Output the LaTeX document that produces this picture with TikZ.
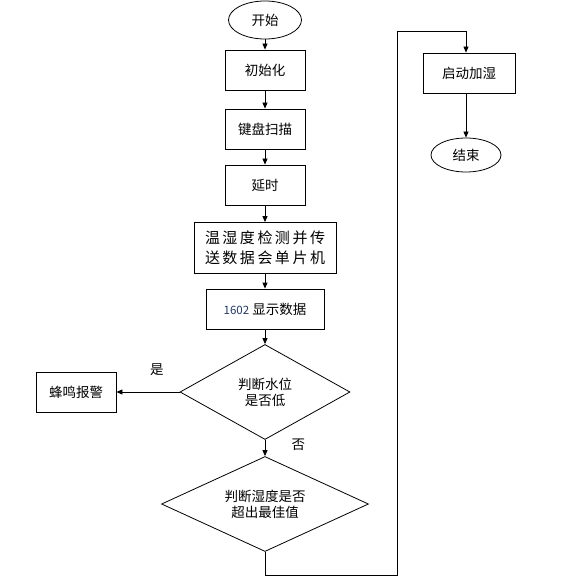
\documentclass[tikz,border=0pt]{standalone}
\usepackage{fontspec}
\setmainfont{Noto Sans CJK SC}
\usetikzlibrary{arrows.meta,positioning,shapes.geometric}
\definecolor{num-blau}{rgb}{.13,.22,.40}

\begin{document}
\begin{tikzpicture}[x=1pt, y=-1pt, >={Triangle[length=6pt,width=5pt]}, font=\fontsize{13.5}{16}\selectfont,
	   b/.style={draw, thick, minimum width=80pt, minimum height=40pt, inner sep=2pt, align=center},
	   e/.style={draw, thick, ellipse, inner sep=0pt},
	   d/.style={draw, thick, diamond, aspect=1.8, inner sep=0pt, align=center}]
	  \useasboundingbox (0,0) rectangle (576,577);
	  \node[e, minimum width=73pt, minimum height=38pt] (start) at (265,20) {开始};
	  \node[b] (init) at (265,70) {初始化};
	  \node[b] (scan) at (265,129) {键盘扫描};
	  \node[b] (delay) at (265,185) {延时};
	  \node[b, minimum width=142pt, minimum height=51pt, font=\fontsize{15}{20}\selectfont] (meas) at (265,248)
	    {温\,湿\,度\,检\,测\,并\,传\\ 送\,数\,据\,会\,单\,片\,机};
	  \node[b, minimum width=118pt] (lcd) at (265,309) {{\color{num-blau}\fontsize{11.5}{13}\selectfont 1602} 显示数据};
	  \node[d, minimum width=170pt, minimum height=95pt] (water) at (265,392) {判断水位\\ 是否低};
	  \node[b] (alarm) at (76,392) {蜂鸣报警};
	  \node[d, minimum width=207pt, minimum height=95pt] (hum) at (265,504) {判断湿度是否\\ 超出最佳值};
	  \node[b, minimum width=92pt] (heat) at (469,73) {启动加湿};
	  \node[e, minimum width=70pt, minimum height=34pt] (end) at (466,155) {结束};
	  \coordinate (c1) at (265,575);
	  \coordinate (c2) at (397,575);
	  \coordinate (c3) at (397,31);
	  \coordinate (c4) at (466,31);
	  \draw[->, thick] (start)--(init); \draw[->, thick] (init)--(scan);
	  \draw[->, thick] (scan)--(delay); \draw[->, thick] (delay)--(meas);
	  \draw[->, thick] (meas)--(lcd); \draw[->, thick] (lcd)--(water);
	  \draw[->, thick] (water)--(alarm) node[pos=.36, above=13pt] {是};
	  \draw[->, thick] (water)--(hum) node[pos=.3, right=23pt] {否};
	  \draw[->, thick] (hum.south)--(c1)--(c2)--(c3)--(c4)--(c4 |- heat.north);
	  \draw[->, thick] (heat.south -| end.north)--(end);
	\end{tikzpicture}
\end{document}
